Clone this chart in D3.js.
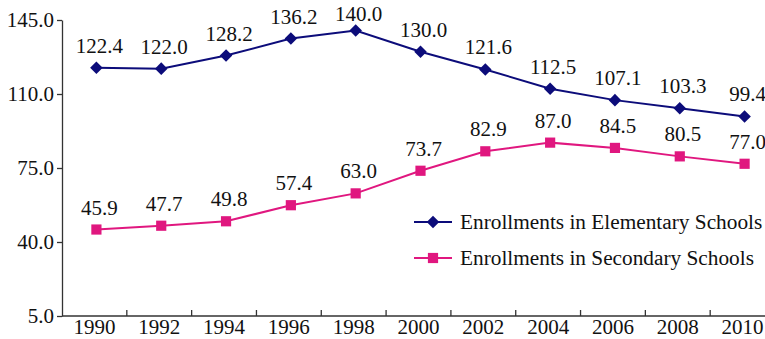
<!DOCTYPE html>
<html>
<head>
<meta charset="utf-8">
<script src="https://cdn.jsdelivr.net/npm/d3@7"></script>
<style>
  body { margin: 0; background: #fff; }
  svg { display: block; }
  text { font-family: "Liberation Serif", "Times New Roman", serif; fill: #111; }
</style>
</head>
<body>
<svg id="chart"></svg>
<script>
var years = ["1990", "1992", "1994", "1996", "1998", "2000", "2002", "2004", "2006", "2008", "2010"];
var elementary = [122.4, 122.0, 128.2, 136.2, 140.0, 130.0, 121.6, 112.5, 107.1, 103.3, 99.4];
var secondary = [45.9, 47.7, 49.8, 57.4, 63.0, 73.7, 82.9, 87.0, 84.5, 80.5, 77.0];
var yTicks = [5, 40, 75, 110, 145];
var seriesNames = ["Enrollments in Elementary Schools", "Enrollments in Secondary Schools"];

const width = 765;
const height = 339;
const marginLeft = 62;
const marginTop = 20;
const marginBottom = 23;

const x = d3.scaleBand(years, [marginLeft, 775]);
const y = d3.scaleLinear([5, 145], [height - marginBottom, marginTop]);
const cx = function(i) { return x(years[i]) + x.bandwidth() / 2 + 2; };

var svg = d3.select("#chart")
    .attr("width", width)
    .attr("height", height)
    .attr("viewBox", [0, 0, width, height]);

// Y axis
svg.append("g")
    .attr("transform", "translate(" + marginLeft + ",0)")
    .call(d3.axisLeft(y).tickValues(yTicks).tickFormat(d3.format(".1f")).tickSize(5).tickPadding(3).tickSizeOuter(0))
    .call(function(g) {
        g.select(".domain").attr("stroke", "#333").attr("stroke-width", 1.3);
        g.selectAll(".tick line").attr("stroke", "#333").attr("stroke-width", 1.3);
        g.selectAll("text").attr("font-size", 21).attr("fill", "#111")
            .attr("font-family", "Liberation Serif, serif");
    });

// X axis: labels centred in bands, ticks on band boundaries pointing up
var xg = svg.append("g")
    .attr("transform", "translate(0," + (height - marginBottom) + ")");
xg.append("line")
    .attr("x1", marginLeft).attr("x2", width)
    .attr("stroke", "#333").attr("stroke-width", 1.3);
xg.selectAll(".xt")
    .data(years.slice(1))
    .join("line")
    .attr("class", "xt")
    .attr("x1", function(d) { return x(d); })
    .attr("x2", function(d) { return x(d); })
    .attr("y1", 0).attr("y2", -6)
    .attr("stroke", "#333").attr("stroke-width", 1.3);
xg.selectAll(".xl")
    .data(years)
    .join("text")
    .attr("class", "xl")
    .attr("x", function(d) { return x(d) + x.bandwidth() / 2; })
    .attr("y", 18)
    .attr("text-anchor", "middle")
    .attr("font-size", 21)
    .text(function(d) { return d; });

var series = [
    { name: seriesNames[0], values: elementary, color: "#0c0c7a", shape: d3.symbolDiamond2, size: 50 },
    { name: seriesNames[1], values: secondary, color: "#e0177f", shape: d3.symbolSquare, size: 52 }
];

var line = d3.line()
    .x(function(d, i) { return cx(i); })
    .y(function(d) { return y(d); });

series.forEach(function(s) {
    svg.append("path")
        .datum(s.values)
        .attr("fill", "none")
        .attr("stroke", s.color)
        .attr("stroke-width", 2)
        .attr("d", line);

    svg.selectAll(null)
        .data(s.values)
        .join("path")
        .attr("transform", function(d, i) { return "translate(" + cx(i) + "," + y(d) + ")"; })
        .attr("d", d3.symbol(s.shape, s.size * 2))
        .attr("fill", s.color);

    svg.selectAll(null)
        .data(s.values)
        .join("text")
        .attr("x", function(d, i) { return cx(i) + 3; })
        .attr("y", function(d) { return Math.max(y(d) - 15, 21); })
        .attr("text-anchor", "middle")
        .attr("font-size", 21)
        .text(function(d) { return d.toFixed(1); });
});

// Legend
var legend = svg.append("g").attr("transform", "translate(414,222)");
series.forEach(function(s, i) {
    var row = legend.append("g").attr("transform", "translate(0," + (i * 36) + ")");
    row.append("line").attr("x1", 0).attr("x2", 38).attr("stroke", s.color).attr("stroke-width", 2);
    row.append("path")
        .attr("transform", "translate(19,0)")
        .attr("d", d3.symbol(s.shape, s.size * 2))
        .attr("fill", s.color);
    row.append("text")
        .attr("x", 46)
        .attr("y", 7)
        .attr("font-size", 21.3)
        .text(s.name);
});
</script>
</body>
</html>
